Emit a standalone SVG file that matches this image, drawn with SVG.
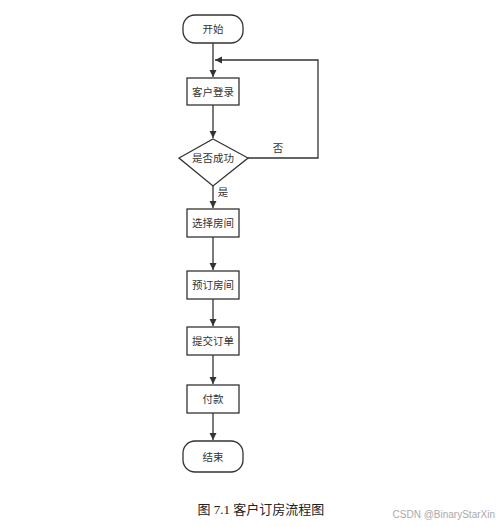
<svg xmlns="http://www.w3.org/2000/svg" width="500" height="527" viewBox="0 0 500 527">
<style>
.box{fill:#fff;stroke:#333;stroke-width:1.3}
.t{font-family:"Liberation Sans","Noto Sans CJK SC",sans-serif;font-size:10.5px;fill:#333;text-anchor:middle;dominant-baseline:central}
.c{fill:none;stroke:#333;stroke-width:1.3}
</style>
<defs>
<marker id="ah" markerWidth="8" markerHeight="8" refX="7" refY="4" orient="auto" markerUnits="userSpaceOnUse">
<path d="M0,0.5 L7,4 L0,7.5 Z" fill="#333"/>
</marker>
</defs>
<rect width="500" height="527" fill="#fff"/>
<g id="connectors">
<line class="c" x1="213" y1="43" x2="213" y2="77" marker-end="url(#ah)"/>
<line class="c" x1="213" y1="105" x2="213" y2="138" marker-end="url(#ah)"/>
<polyline class="c" points="248,158 318,158 318,60 215,60" marker-end="url(#ah)"/>
<line class="c" x1="213" y1="186" x2="213" y2="208" marker-end="url(#ah)"/>
<line class="c" x1="213" y1="237" x2="213" y2="270" marker-end="url(#ah)"/>
<line class="c" x1="213" y1="299" x2="213" y2="326" marker-end="url(#ah)"/>
<line class="c" x1="213" y1="355" x2="213" y2="384" marker-end="url(#ah)"/>
<line class="c" x1="213" y1="413" x2="213" y2="440" marker-end="url(#ah)"/>
<text class="t" x="278" y="148">否</text>
<text class="t" x="223" y="192">是</text>
</g>
<g id="start"><rect class="box" x="183" y="15" width="60" height="28" rx="12"/><text class="t" x="213" y="29">开始</text></g>
<g id="login"><rect class="box" x="187" y="78" width="52" height="27"/><text class="t" x="213" y="91.5">客户登录</text></g>
<g id="check"><polygon class="box" points="213,139 248,158 213,186 179,158"/><text class="t" x="213" y="158">是否成功</text></g>
<g id="select"><rect class="box" x="187" y="209" width="52" height="28"/><text class="t" x="213" y="223">选择房间</text></g>
<g id="reserve"><rect class="box" x="187" y="271" width="52" height="28"/><text class="t" x="213" y="285">预订房间</text></g>
<g id="submit"><rect class="box" x="187" y="327" width="52" height="28"/><text class="t" x="213" y="341">提交订单</text></g>
<g id="pay"><rect class="box" x="187" y="385" width="52" height="28"/><text class="t" x="213" y="399">付款</text></g>
<g id="end"><rect class="box" x="183" y="441" width="60" height="31" rx="12"/><text class="t" x="213" y="456.5">结束</text></g>
<text x="261" y="514" font-family="'Liberation Serif','Noto Sans CJK SC',serif" font-size="13" fill="#222" text-anchor="middle">图 7.1 客户订房流程图</text>
<text x="495" y="518" font-family="'Liberation Sans',sans-serif" font-size="10" fill="#aaa" text-anchor="end">CSDN @BinaryStarXin</text>
</svg>
